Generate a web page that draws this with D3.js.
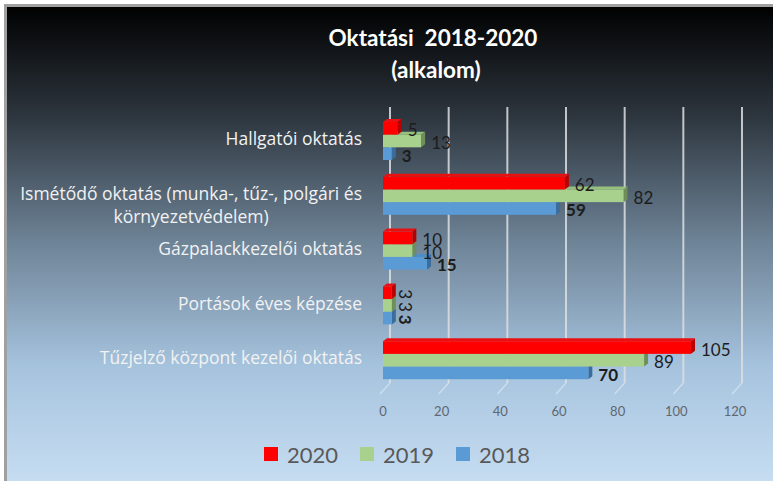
<!DOCTYPE html>
<html>
<head>
<meta charset="utf-8">
<script src="https://cdn.jsdelivr.net/npm/d3@7"></script>
<style>
  html, body { margin: 0; padding: 0; background: #fff; }
  svg { display: block; font-family: Lato, "Open Sans", sans-serif; }
</style>
</head>
<body>
<svg width="773" height="481"></svg>
<script>
// chart data
const categories = [
  'Hallgatói oktatás',
  'Ismétődő oktatás (munka-, tűz-, polgári és|környezetvédelem)',
  'Gázpalackkezelői oktatás',
  'Portások éves képzése',
  'Tűzjelző központ kezelői oktatás'
];
const seriesNames = ['2020', '2019', '2018'];
const values2020 = [5, 62, 10, 3, 105];
const values2019 = [13, 82, 10, 3, 89];
const values2018 = [3, 59, 15, 3, 70];
const xTicks = [0, 20, 40, 60, 80, 100, 120];

const seriesValues = { '2020': values2020, '2019': values2019, '2018': values2018 };
const colors = {
  '2020': { front: '#ff0000', top: '#e81010', side: '#b80000' },
  '2019': { front: '#a9d18e', top: '#98c07d', side: '#6f8f58' },
  '2018': { front: '#5b9bd5', top: '#4d8cc6', side: '#3a6d9c' }
};

const width = 773, height = 481;
const svg = d3.select('svg');

// background gradient
const defs = svg.append('defs');
const grad = defs.append('linearGradient')
  .attr('id', 'bg').attr('x1', 0).attr('y1', 0).attr('x2', 0).attr('y2', 1);
[[0, '#000000'], [0.22, '#2b333b'], [0.48, '#6b8093'], [0.75, '#a6c3de'], [1, '#c7def2']]
  .forEach(s => grad.append('stop').attr('offset', s[0]).attr('stop-color', s[1]));

svg.append('rect')
  .attr('x', 5.5).attr('y', 5.5)
  .attr('width', width).attr('height', height)
  .attr('fill', 'url(#bg)')
  .attr('stroke', '#a0a0a0').attr('stroke-width', 3);

// scales
const x = d3.scaleLinear().domain([0, 120]).range([383, 735]);
const y = d3.scaleBand().domain(categories).range([113.6, 387.6]);
const yInner = d3.scaleBand().domain(seriesNames).range([-19, 19]);
const depthX = 7;     // wall offset
const bx = 4, by = 3; // bar depth

// gridlines on the back wall + floor edge
const grid = svg.append('g');
xTicks.forEach(t => {
  grid.append('line')
    .attr('x1', x(t) + depthX).attr('x2', x(t) + depthX)
    .attr('y1', 107).attr('y2', 383)
    .attr('stroke', '#dcdfe2').attr('stroke-width', 2).attr('opacity', 0.85);
  grid.append('line')
    .attr('x1', x(t) + depthX).attr('x2', x(t) - 3)
    .attr('y1', 383).attr('y2', 394)
    .attr('stroke', '#eef3f8').attr('stroke-width', 1.5).attr('opacity', 0.5);
});

// tick labels
svg.append('g').selectAll('text')
  .data(xTicks)
  .enter().append('text')
    .attr('x', d => x(d))
    .attr('y', 411)
    .attr('text-anchor', 'middle')
    .attr('dominant-baseline', 'central')
    .style('font-size', '13px')
    .style('fill', '#5f6770')
    .text(d => d);

// 3D bars, drawn bottom series first so upper bars cover the tops
const bars = svg.append('g');
categories.forEach((c, i) => {
  seriesNames.slice().reverse().forEach(s => {
    const v = seriesValues[s][i];
    const x0 = x(0), x1 = x(v);
    const y0 = y(c) + y.bandwidth() / 2 + yInner(s);
    const h = yInner.bandwidth();
    const col = colors[s];
    bars.append('path')
      .attr('d', `M${x0},${y0} L${x0 + bx},${y0 - by} L${x1 + bx},${y0 - by} L${x1},${y0} Z`)
      .attr('fill', col.top);
    bars.append('path')
      .attr('d', `M${x1},${y0} L${x1 + bx},${y0 - by} L${x1 + bx},${y0 + h - by} L${x1},${y0 + h} Z`)
      .attr('fill', col.side);
    bars.append('rect')
      .attr('x', x0).attr('y', y0)
      .attr('width', x1 - x0).attr('height', h)
      .attr('fill', col.front);
  });
});

// value labels
const labels = svg.append('g');
categories.forEach((c, i) => {
  seriesNames.forEach(s => {
    const v = seriesValues[s][i];
    const cy = y(c) + y.bandwidth() / 2 + yInner(s) + yInner.bandwidth() / 2 + 1.5;
    const t = labels.append('text')
      .style('font-size', '17px')
      .style('font-weight', s === '2018' ? 'bold' : 'normal')
      .style('fill', '#1c1c1c')
      .attr('dominant-baseline', 'central')
      .text(v);
    if (c === 'Portások éves képzése') {
      // these labels sit rotated in the original
      t.attr('text-anchor', 'middle')
        .attr('transform', `translate(${x(v) + 14},${cy}) rotate(90)`);
    } else {
      t.attr('x', x(v) + 10).attr('y', cy);
    }
  });
});

// category labels (right aligned, wrapped lines centered in block)
const catPos = [138, 193, 248, 303, 357];
const cats = svg.append('g')
  .style('font-family', '"Open Sans", sans-serif')
  .style('font-size', '17.5px')
  .style('fill', '#f2f2f2');
categories.forEach((c, i) => {
  const lines = c.split('|');
  const first = cats.append('text')
    .attr('x', 362).attr('y', catPos[i])
    .attr('text-anchor', 'end')
    .attr('dominant-baseline', 'central')
    .text(lines[0]);
  if (lines.length > 1) {
    const w = first.node().getComputedTextLength();
    cats.append('text')
      .attr('x', 362 - w / 2).attr('y', catPos[i] + 23)
      .attr('text-anchor', 'middle')
      .attr('dominant-baseline', 'central')
      .text(lines[1]);
  }
});

// title
svg.append('text')
  .attr('x', 433).attr('y', 37)
  .attr('text-anchor', 'middle')
  .attr('dominant-baseline', 'central')
  .style('font-size', '22.5px').style('font-weight', 'bold')
  .style('fill', '#ffffff').style('white-space', 'pre')
  .text('Oktatási  2018-2020');
svg.append('text')
  .attr('x', 436).attr('y', 69)
  .attr('text-anchor', 'middle')
  .attr('dominant-baseline', 'central')
  .style('font-size', '22.5px').style('font-weight', 'bold')
  .style('fill', '#ffffff')
  .text('(alkalom)');

// legend
const legend = svg.append('g')
  .selectAll('g')
  .data(seriesNames)
  .enter().append('g')
    .attr('transform', (d, i) => 'translate(' + (264 + i * 96) + ',454)');
legend.append('rect')
  .attr('x', 0).attr('y', -7)
  .attr('width', 14).attr('height', 14)
  .attr('fill', d => colors[d].front);
legend.append('text')
  .attr('x', 23).attr('y', 0)
  .attr('dominant-baseline', 'central')
  .style('font-size', '22px')
  .style('fill', '#595959')
  .text(d => d);
</script>
</body>
</html>
